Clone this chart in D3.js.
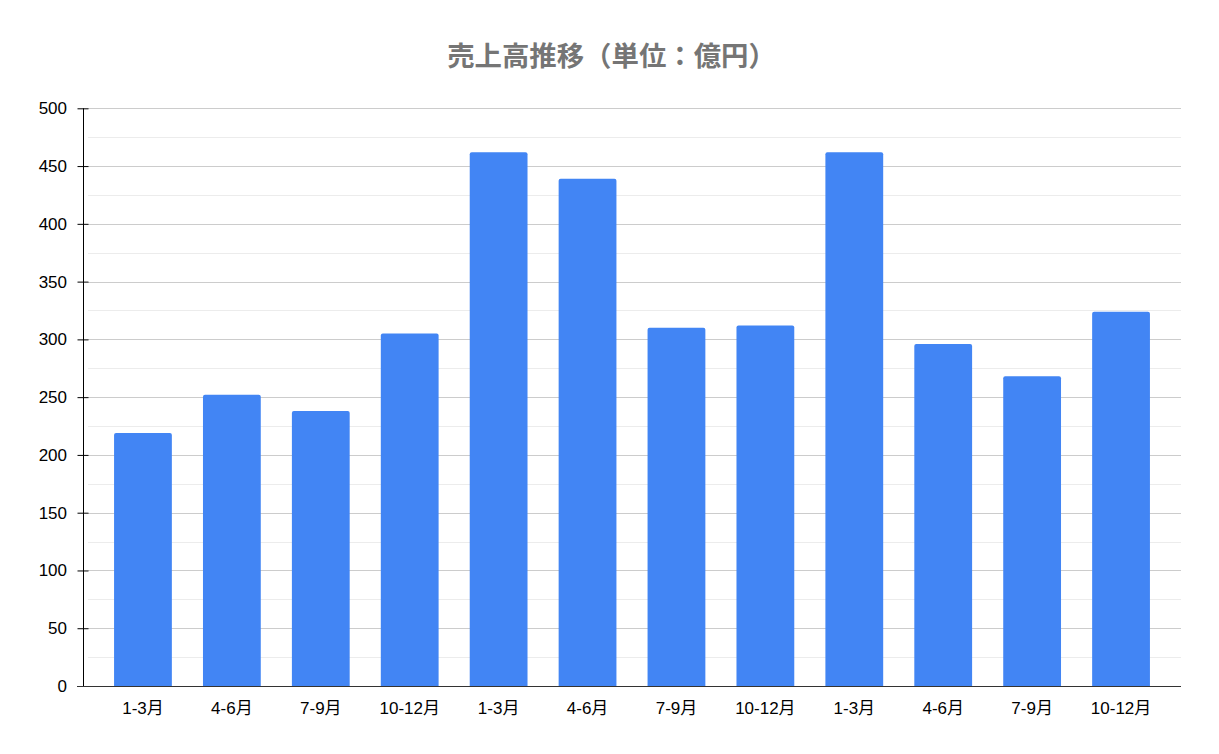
<!DOCTYPE html>
<html><head><meta charset="utf-8">
<script src="https://cdn.jsdelivr.net/npm/d3@7"></script>
<style>body{margin:0;background:#fff}svg{display:block}</style>
</head><body>
<script>
const categories = ["1-3月","4-6月","7-9月","10-12月","1-3月","4-6月","7-9月","10-12月","1-3月","4-6月","7-9月","10-12月"];
const sales = [219, 252, 238, 305, 462, 439, 310, 312, 462, 296, 268, 324];
const yTicks = [0,50,100,150,200,250,300,350,400,450,500];
const yMinor = [25,75,125,175,225,275,325,375,425,475];
const title = "売上高推移（単位：億円）";

(function () {
const W = 1219, H = 754;
const svg = d3.select("body").append("svg").attr("width", W).attr("height", H);
const font = "'Liberation Sans', Arial, 'Noto Sans CJK JP', sans-serif";

const axisX = 83, rightX = 1181, plotTop = 108.3, base = 686;
const x = d3.scaleBand().domain(d3.range(categories.length)).range([98.5, 1165.5]).paddingInner(0.35).paddingOuter(0.175);
const y = d3.scaleLinear().domain([0, 500]).range([base, plotTop]);

svg.append("text").attr("x", 611.5).attr("y", 66).attr("text-anchor", "middle")
  .attr("font-family", "'Noto Sans CJK JP', sans-serif").attr("font-weight", "bold")
  .attr("font-size", 27.4).attr("fill", "#757575").text(title);

svg.append("g").selectAll("line").data(yMinor).join("line")
  .attr("x1", 88).attr("x2", rightX).attr("y1", d => Math.round(y(d)) + 0.5).attr("y2", d => Math.round(y(d)) + 0.5)
  .attr("stroke", "#ececec").attr("stroke-width", 1);
svg.append("g").selectAll("line").data(yTicks.filter(d => d > 0)).join("line")
  .attr("x1", 88).attr("x2", rightX).attr("y1", d => Math.round(y(d)) + 0.5).attr("y2", d => Math.round(y(d)) + 0.5)
  .attr("stroke", "#cccccc").attr("stroke-width", 1);

svg.append("g").selectAll("path").data(sales).join("path")
  .attr("fill", "#4285f4")
  .attr("d", (d, i) => {
    const x0 = x(i), w = x.bandwidth(), y0 = y(d), r = 2;
    return `M${x0},${base}V${y0 + r}Q${x0},${y0} ${x0 + r},${y0}H${x0 + w - r}Q${x0 + w},${y0} ${x0 + w},${y0 + r}V${base}Z`;
  });

const yAxis = d3.axisLeft(y).tickValues(yTicks).tickSize(6).tickPadding(10.5);
const gy = svg.append("g").attr("transform", `translate(${axisX + 0.5},0)`).call(yAxis);
gy.select(".domain").attr("d", `M0,${plotTop}V${base}`).attr("stroke", "#000");
gy.selectAll(".tick line").attr("x1", -6).attr("x2", 5).attr("stroke", "#000");
gy.selectAll(".tick text").attr("font-family", font).attr("font-size", 17).attr("fill", "#000");

svg.append("line").attr("x1", 77).attr("x2", rightX).attr("y1", base + 0.5).attr("y2", base + 0.5).attr("stroke", "#333").attr("stroke-width", 1);

const xAxis = d3.axisBottom(x).tickFormat(i => categories[i]).tickSize(0).tickPadding(16);
const gx = svg.append("g").attr("transform", `translate(0,${base})`).call(xAxis);
gx.select(".domain").remove();
gx.selectAll(".tick text").attr("font-family", font).attr("font-size", 17).attr("fill", "#000");
})();
</script>
</body></html>
